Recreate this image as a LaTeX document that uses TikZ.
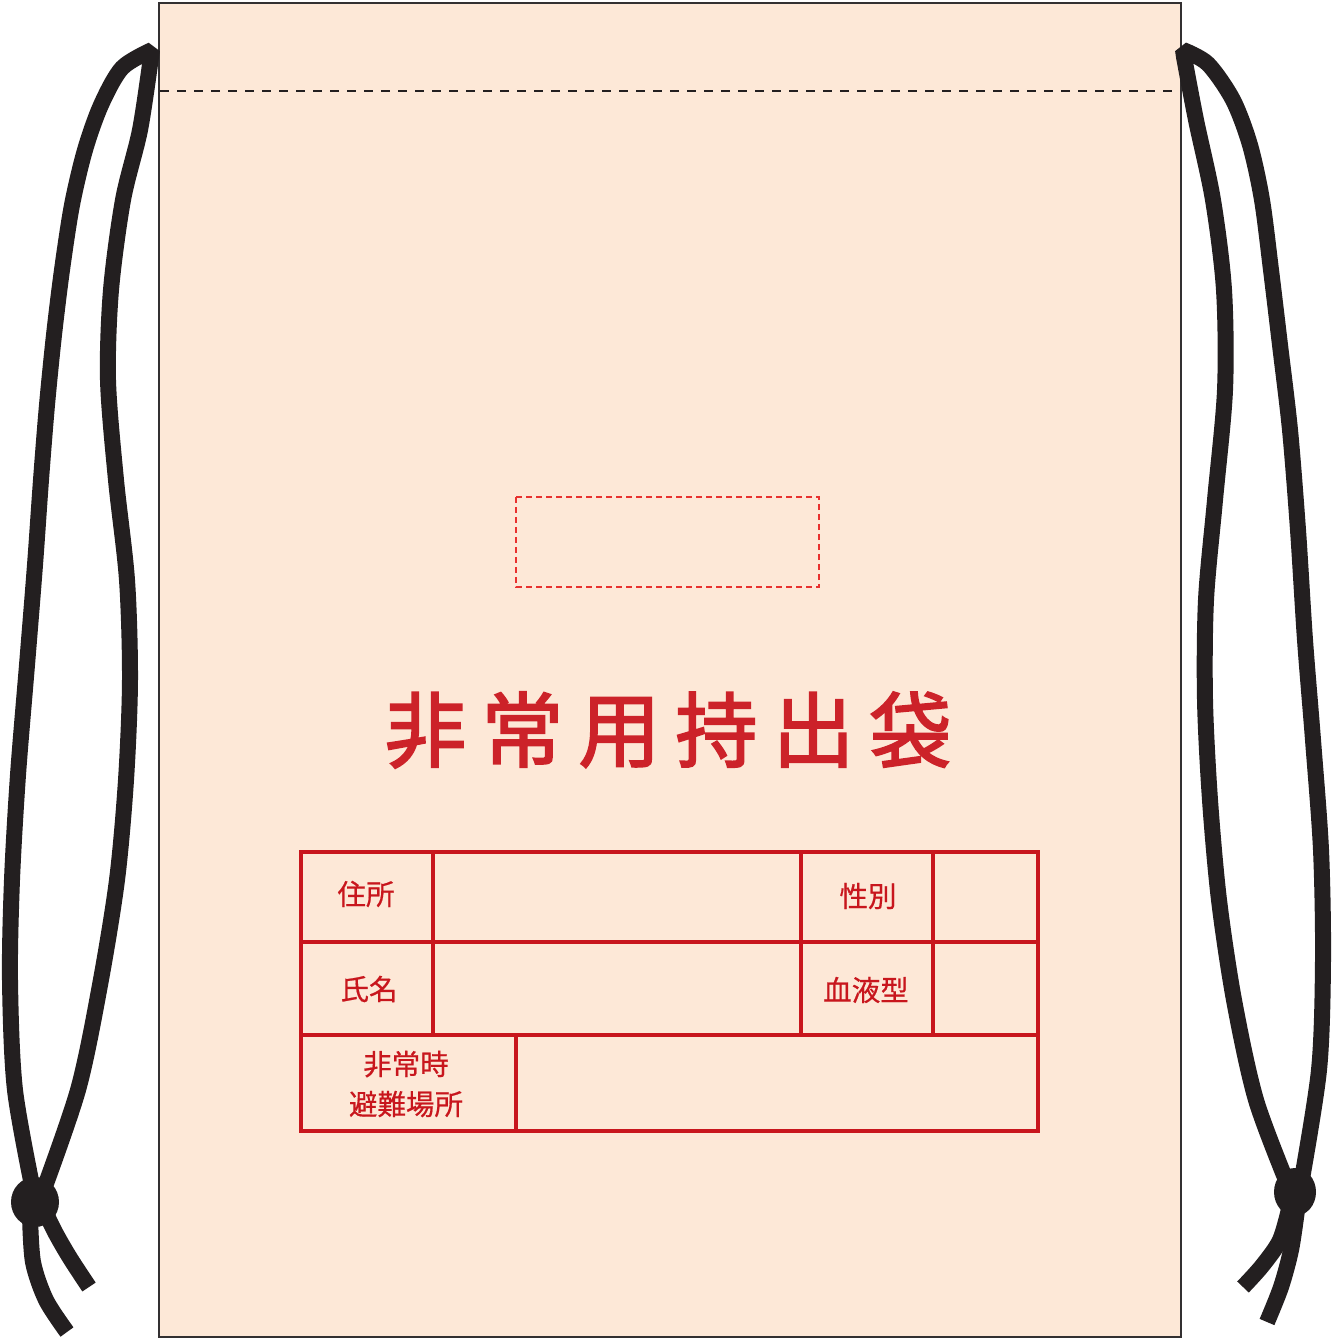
\documentclass[tikz,border=0pt]{standalone}
\usepackage{fontspec}
\newfontfamily\jp[FakeBold=0.6]{Noto Sans CJK JP}
\newfontfamily\jptitle[FakeBold=2.2]{Noto Sans CJK JP}
\definecolor{bagfill}{HTML}{FDE8D7}
\definecolor{bagedge}{HTML}{333031}
\definecolor{cordc}{HTML}{231F20}
\definecolor{tabred}{HTML}{C8161D}
\definecolor{titlered}{HTML}{CC2229}
\definecolor{dashred}{HTML}{E8312F}
\tikzset{
  cord/.style={draw=cordc, line width=16pt, line cap=butt, line join=miter, miter limit=1.6},
  knot/.style={fill=cordc, draw=none},
  tabline/.style={draw=tabred, line width=4pt},
  cell/.style={inner sep=0pt, text=tabred, font=\jp\fontsize{28.5}{40}\selectfont, align=center},
}
\begin{document}
\begin{tikzpicture}[x=1pt,y=-1pt]
\useasboundingbox (0,0) rectangle (1340,1341);
% bag
\filldraw[fill=bagfill, draw=bagedge, line width=2pt] (159,3) rectangle (1181,1337);
\draw[cordc, line width=1.6pt, dash pattern=on 9pt off 8pt] (160,91) -- (1180,91);
% label area
\draw[dashred, line width=1.6pt, dash pattern=on 6pt off 4pt] (516,497) rectangle (819,587);
% title
\node[inner sep=0pt, text=titlered, font=\jptitle\fontsize{82}{82}\selectfont] (title) at (668,730)
  {非\hspace{15pt}常\hspace{15pt}用\hspace{15pt}持\hspace{15pt}出\hspace{15pt}袋};
% table
\draw[tabline] (301,852) rectangle (1038,1131);
\draw[tabline] (301,942) -- (1038,942);
\draw[tabline] (301,1035) -- (1038,1035);
\draw[tabline] (433,852) -- (433,1035);
\draw[tabline] (801,852) -- (801,1035);
\draw[tabline] (933,852) -- (933,1035);
\draw[tabline] (516,1035) -- (516,1131);
\node[cell] (addr) at (366,894) {住所};
\node[cell] (name) at (369,989) {氏名};
\node[cell] (sex) at (868,896) {性別};
\node[cell] (blood) at (866,990) {血液型};
\node[cell] (refuge) at (406,1084) {非常時\\避難場所};
% left cord
\draw[cord] plot[smooth, tension=0.5] coordinates {(35,1200) (15,1090) (10,980) (12,880) (18,775) (27,665) (35,565) (41,480) (47,405) (54,335) (62,270) (72,205) (85,150) (101,105) (122,68) (152,50)}
  -- plot[smooth, tension=0.5] coordinates {(151,57) (140,130) (123,200) (111,290) (108,380) (116,480) (127,580) (130,680) (126,780) (117,880) (100,985) (78,1090) (40,1200)};
\draw[cord] plot[smooth] coordinates {(42,1205) (55,1232) (70,1258) (89,1287)};
\draw[cord] plot[smooth] coordinates {(30,1215) (33,1262) (46,1300) (67,1332)};
\fill[knot] (35,1202) ellipse [x radius=24, y radius=25];
% right cord
\draw[cord] plot[smooth, tension=0.5] coordinates {(1300,1190) (1319,1070) (1323,960) (1321,850) (1313,740) (1305,640) (1298,530) (1290,430) (1280,345) (1271,270) (1262,200) (1250,145) (1233,100) (1208,64) (1183,50)}
  -- plot[smooth, tension=0.5] coordinates {(1184,57) (1196,120) (1213,200) (1224,290) (1225,390) (1215,500) (1206,600) (1205,700) (1210,800) (1219,900) (1234,1000) (1256,1100) (1290,1190)};
\draw[cord] plot[smooth] coordinates {(1290,1205) (1280,1240) (1262,1266) (1243,1287)};
\draw[cord] plot[smooth] coordinates {(1297,1210) (1291,1250) (1281,1287) (1267,1322)};
\fill[knot] (1295,1192) ellipse [x radius=21, y radius=24];
\end{tikzpicture}
\end{document}
